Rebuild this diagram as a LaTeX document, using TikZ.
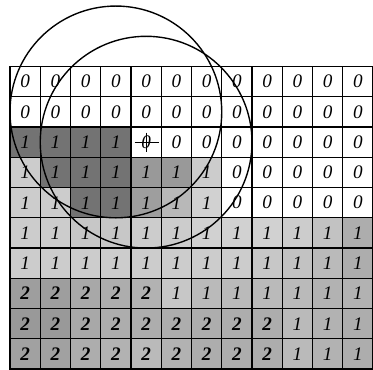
\documentclass[tikz,border=0pt]{standalone}
\usepackage{fontspec}
\setmainfont{Liberation Serif}
\begin{document}
\begin{tikzpicture}[x=1cm,y=-1cm,
  cell/.style={draw=black, line width=1.1pt, minimum size=1cm, inner sep=0pt, outer sep=0pt,
    font=\fontsize{18}{18}\selectfont\itshape},
  ring/.style={draw=black, line width=1.3pt},
  cross/.style={draw=black, line width=0.9pt}]
\useasboundingbox (-0.33,-2.2) rectangle (12,10);
\clip (-0.33,-2.2) rectangle (12,10);
\foreach \r/\vals in {
  0/{0/0,0/0,0/0,0/0,0/0,0/0,0/0,0/0,0/0,0/0,0/0,0/0},
  1/{0/0,0/0,0/0,0/0,0/0,0/0,0/0,0/0,0/0,0/0,0/0,0/0},
  2/{1/55,1/55,1/55,1/55,0/0,0/0,0/0,0/0,0/0,0/0,0/0,0/0},
  3/{1/20,1/55,1/55,1/55,1/40,1/40,1/20,0/0,0/0,0/0,0/0,0/0},
  4/{1/20,1/20,1/55,1/55,1/38,1/28,1/18,0/0,0/0,0/0,0/0,0/0},
  5/{1/20,1/20,1/22,1/22,1/20,1/20,1/18,1/18,1/18,1/20,1/24,1/32},
  6/{1/20,1/20,1/20,1/20,1/20,1/20,1/20,1/20,1/22,1/24,1/27,1/32},
  7/{\textbf{2}/38,\textbf{2}/38,\textbf{2}/34,\textbf{2}/32,\textbf{2}/30,1/22,1/27,1/27,1/27,1/27,1/30,1/30},
  8/{\textbf{2}/40,\textbf{2}/40,\textbf{2}/34,\textbf{2}/32,\textbf{2}/32,\textbf{2}/32,\textbf{2}/32,\textbf{2}/32,\textbf{2}/32,1/27,1/30,1/32},
  9/{\textbf{2}/37,\textbf{2}/37,\textbf{2}/32,\textbf{2}/30,\textbf{2}/27,\textbf{2}/30,\textbf{2}/32,\textbf{2}/32,\textbf{2}/32,1/27,1/30,1/32}}
{
  \foreach \v/\s [count=\c from 0] in \vals
    \node[cell, fill=black!\s] (c-\r-\c) at (\c+0.5,\r+0.5) {\v};
}
\draw[ring] (c-1-3.center) circle[radius=3.5];
\draw[ring] (c-2-4.center) circle[radius=3.5];
\draw[cross] ([xshift=-0.38cm]c-2-4.center) -- ([xshift=0.42cm]c-2-4.center);
\draw[cross] ([yshift=0.32cm]c-2-4.center) -- ([yshift=-0.34cm]c-2-4.center);
\end{tikzpicture}
\end{document}
